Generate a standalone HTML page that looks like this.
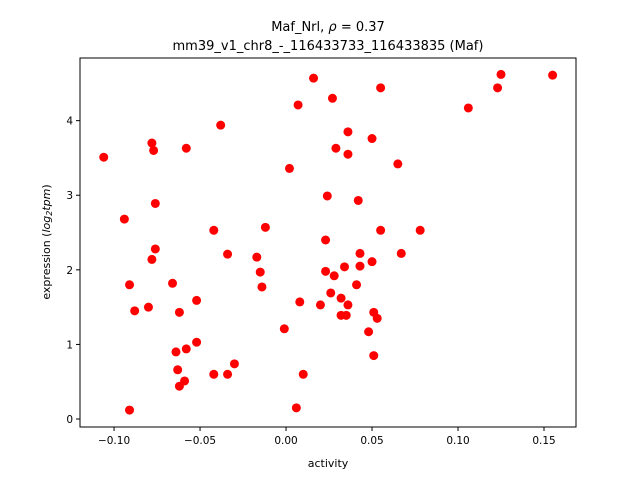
<!DOCTYPE html>
<html><head><meta charset="utf-8"><style>body{margin:0;background:#fff}svg{display:block;font-family:"DejaVu Sans","Liberation Sans",sans-serif}</style></head>
<body>
<svg id="chart" width="640" height="480"></svg>
<script>
const xVals=[-0.106,-0.094,-0.091,-0.091,-0.088,-0.080,-0.078,-0.077,-0.078,-0.076,-0.076,-0.066,-0.064,-0.062,-0.063,-0.062,-0.059,-0.058,-0.058,-0.052,-0.052,-0.042,-0.042,-0.038,-0.034,-0.034,-0.030,-0.017,-0.015,-0.014,-0.012,-0.001,0.002,0.006,0.007,0.008,0.010,0.016,0.020,0.023,0.023,0.024,0.026,0.027,0.028,0.029,0.032,0.034,0.032,0.035,0.036,0.036,0.036,0.041,0.042,0.043,0.043,0.048,0.050,0.050,0.051,0.051,0.053,0.055,0.055,0.065,0.067,0.078,0.106,0.123,0.125,0.155];
const yVals=[3.51,2.68,0.12,1.80,1.45,1.50,3.70,3.60,2.14,2.89,2.28,1.82,0.90,1.43,0.66,0.44,0.51,0.94,3.63,1.03,1.59,2.53,0.60,3.94,2.21,0.60,0.74,2.17,1.97,1.77,2.57,1.21,3.36,0.15,4.21,1.57,0.60,4.57,1.53,2.40,1.98,2.99,1.69,4.30,1.92,3.63,1.39,2.04,1.62,1.39,1.53,3.85,3.55,1.80,2.93,2.22,2.05,1.17,3.76,2.11,1.43,0.85,1.35,2.53,4.44,3.42,2.22,2.53,4.17,4.44,4.62,4.61];
const xTicks=[-0.10,-0.05,0.00,0.05,0.10,0.15];
const xTickLabels=["−0.10","−0.05","0.00","0.05","0.10","0.15"];
const yTicks=[0,1,2,3,4];
const yTickLabels=["0","1","2","3","4"];
const L=80,R=576,T=58,B=427,xmin=-0.1198,xmax=0.1686,ymin=-0.107,ymax=4.84;
const sx=v=>L+(v-xmin)/(xmax-xmin)*(R-L);
const sy=v=>B-(v-ymin)/(ymax-ymin)*(B-T);
const svg=document.getElementById('chart');
const NS='http://www.w3.org/2000/svg';
function mk(tag,attrs,text){const e=document.createElementNS(NS,tag);for(const k in attrs)e.setAttribute(k,attrs[k]);if(text!==undefined)e.textContent=text;svg.appendChild(e);return e;}
for(let i=0;i<xVals.length;i++){
 const c=mk('circle',{cx:sx(xVals[i]),cy:sy(yVals[i]),r:4.5,fill:'#ff0000'});
 
 
}
const f=mk('rect',{x:L,y:T,width:R-L,height:B-T,fill:'none',stroke:'#000','stroke-width':1});


xTicks.forEach((v,i)=>{
 const x=sx(v);
 const t=mk('line',{x1:x,y1:B,x2:x,y2:B+4,stroke:'#000'});
 
 
 const l=mk('text',{x:x,y:B+17,'font-size':10.5,'text-anchor':'middle'},xTickLabels[i]);
 
 
});
yTicks.forEach((v,i)=>{
 const y=sy(v);
 const t=mk('line',{x1:L-4,y1:y,x2:L,y2:y,stroke:'#000'});
 
 
 const l=mk('text',{x:L-7,y:y+4,'font-size':10.5,'text-anchor':'end'},yTickLabels[i]);
 
 
});
const xl=mk('text',{x:328,y:467,'font-size':11,'text-anchor':'middle'},'activity');


const yl=mk('text',{x:0,y:0,'font-size':11,'text-anchor':'middle',transform:'translate(50,242) rotate(-90)'});
yl.innerHTML='expression (<tspan font-style="italic">log</tspan><tspan font-style="italic" font-size="8" dy="2">2</tspan><tspan font-style="italic" dy="-2">tpm</tspan>)';


const t1=mk('text',{x:328,y:31,'font-size':13,'text-anchor':'middle'});
t1.innerHTML='Maf_Nrl, <tspan font-style="italic">ρ</tspan> = 0.37';


const t2=mk('text',{x:328,y:50,'font-size':13,'text-anchor':'middle'},'mm39_v1_chr8_-_116433733_116433835 (Maf)');


</script>
</body></html>
